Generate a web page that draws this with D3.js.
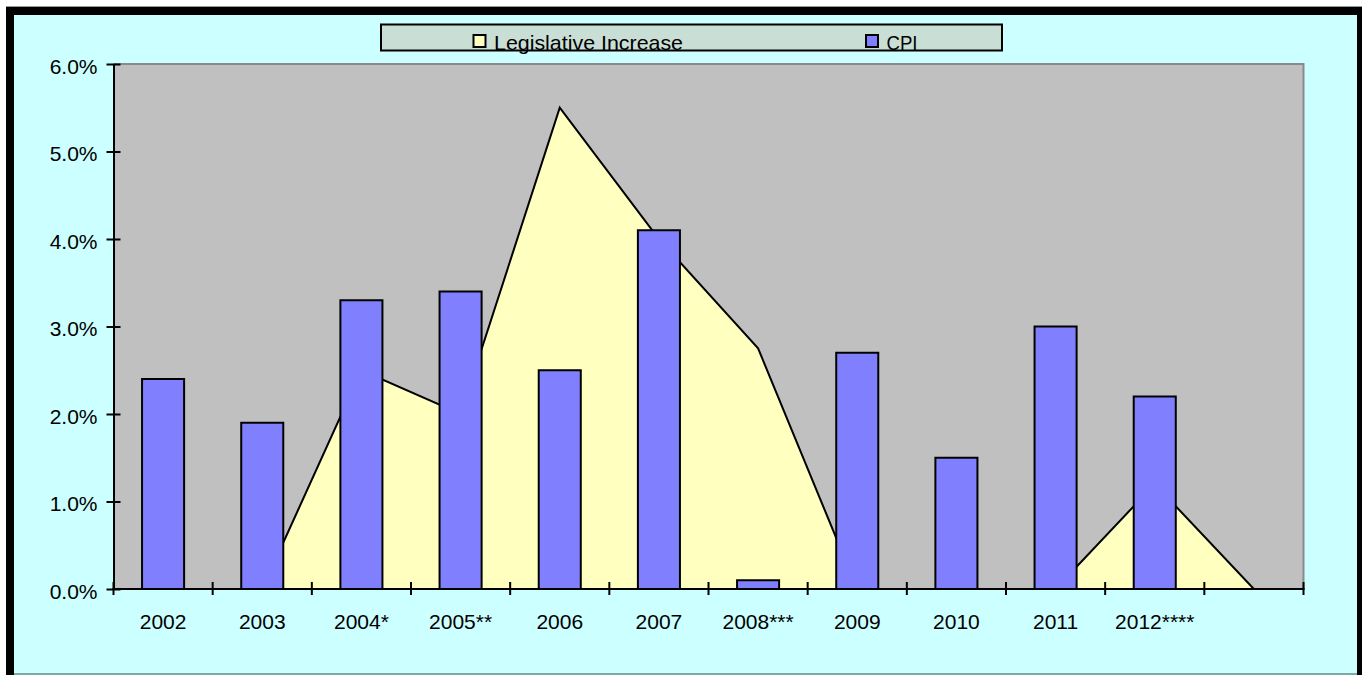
<!DOCTYPE html>
<html>
<head>
<meta charset="utf-8">
<script src="https://cdn.jsdelivr.net/npm/d3@7/dist/d3.min.js"></script>
<style>
  html, body { margin: 0; padding: 0; background: #ffffff; }
  svg { display: block; }
  text { font-family: "Liberation Sans", Arial, sans-serif; fill: #000; }
</style>
</head>
<body>
<svg id="chart" width="1362" height="675"></svg>
<script>
// ---- Data ----
const categories = ["2002", "2003", "2004*", "2005**", "2006", "2007", "2008***", "2009", "2010", "2011", "2012****", ""];
const cpiValues = [2.4, 1.9, 3.3, 3.4, 2.5, 4.1, 0.1, 2.7, 1.5, 3.0, 2.2, null];
const legislativeValues = [0, 0, 2.5, 2.0, 5.5, 4.0, 2.75, 0, 0, 0, 1.2, 0];
const yTickValues = [0, 1, 2, 3, 4, 5, 6];
const seriesNames = ["Legislative Increase", "CPI"];

// ---- Layout ----
const W = 1362, H = 675;
const plot = { left: 113.5, right: 1303.5, top: 64, bottom: 589 };
const colors = { bg: "#CCFFFF", plot: "#C0C0C0", area: "#FFFFC0", bar: "#8080FF", legend: "#C9DFD6" };

const svg = d3.select("#chart");

// outer frame
svg.append("rect").attr("x", 6).attr("y", 6).attr("width", W - 6).attr("height", H - 6).attr("fill", "#999");
svg.append("rect").attr("x", 6).attr("y", 7).attr("width", W - 6).attr("height", H - 7).attr("fill", "#000");
svg.append("rect").attr("x", 14).attr("y", 15).attr("width", 1357 - 14).attr("height", 673 - 15).attr("fill", colors.bg);
svg.append("rect").attr("x", 14).attr("y", 673).attr("width", 1357 - 14).attr("height", 2).attr("fill", "#7FA8A8");

// scales
const x = d3.scaleBand().domain(categories).range([plot.left, plot.right]).paddingInner(0).paddingOuter(0);
const y = d3.scaleLinear().domain([0, 6]).range([plot.bottom, plot.top]);
const barW = x.bandwidth() * 0.424;
const cx = c => x(c) + x.bandwidth() / 2;

// plot area
svg.append("rect").attr("x", plot.left).attr("y", plot.top)
  .attr("width", plot.right - plot.left).attr("height", plot.bottom - plot.top)
  .attr("fill", colors.plot);
svg.append("path")
  .attr("d", `M${plot.left},${plot.top}H${plot.right}V${plot.bottom}`)
  .attr("fill", "none").attr("stroke", "#8a8a8a").attr("stroke-width", 2);

// area series
const areaData = categories.map((c, i) => ({ c, v: legislativeValues[i] }));
const area = d3.area().x(d => cx(d.c)).y0(y(0)).y1(d => y(d.v));
svg.append("path").datum(areaData)
  .attr("d", area)
  .attr("fill", colors.area)
  .attr("stroke", "#000").attr("stroke-width", 2).attr("stroke-linejoin", "miter");

// bars
const barData = categories.map((c, i) => ({ c, v: cpiValues[i] })).filter(d => d.v != null);
svg.append("g").selectAll("rect").data(barData).join("rect")
  .attr("x", d => cx(d.c) - barW / 2)
  .attr("y", d => y(d.v))
  .attr("width", barW)
  .attr("height", d => y(0) - y(d.v))
  .attr("fill", colors.bar)
  .attr("stroke", "#000").attr("stroke-width", 2);

// y axis
const yAxis = d3.axisLeft(y).tickValues(yTickValues).tickSize(0).tickFormat(d => d3.format(".1f")(d) + "%");
const gy = svg.append("g").attr("transform", `translate(${plot.left},0)`).call(yAxis);
gy.attr("font-family", null).attr("font-size", null);
gy.select(".domain").attr("stroke", "#000").attr("stroke-width", 2);
gy.selectAll(".tick line").remove();
gy.selectAll(".tick").append("line").attr("x1", -7).attr("x2", 7).attr("stroke", "#000").attr("stroke-width", 2);
gy.selectAll(".tick text")
  .attr("x", -16).attr("dy", "0.45em")
  .style("font-size", "21px").attr("fill", "#000");

// x axis (ticks at category boundaries)
const boundaries = categories.map(c => x(c)).concat([plot.right]);
const gx = svg.append("g");
gx.append("line").attr("x1", plot.left - 1).attr("x2", plot.right + 1)
  .attr("y1", plot.bottom).attr("y2", plot.bottom).attr("stroke", "#000").attr("stroke-width", 2.2);
gx.selectAll("line.tk").data(boundaries).join("line").attr("class", "tk")
  .attr("x1", d => d).attr("x2", d => d)
  .attr("y1", plot.bottom - 7).attr("y2", plot.bottom + 6)
  .attr("stroke", "#000").attr("stroke-width", 2);
gx.selectAll("text").data(categories).join("text")
  .attr("x", d => cx(d)).attr("y", 629)
  .attr("text-anchor", "middle")
  .style("font-size", "21px")
  .text(d => d);

// legend
const lg = svg.append("g");
lg.append("rect").attr("x", 381).attr("y", 24.5).attr("width", 621).attr("height", 26)
  .attr("fill", colors.legend).attr("stroke", "#000").attr("stroke-width", 2);
const legendItems = [
  { name: seriesNames[0], color: colors.area, sx: 473.5, tx: 494, len: 189 },
  { name: seriesNames[1], color: colors.bar, sx: 866, tx: 886.5, len: 31 }
];
legendItems.forEach(it => {
  lg.append("rect").attr("x", it.sx).attr("y", 35).attr("width", 12).attr("height", 12)
    .attr("fill", it.color).attr("stroke", "#000").attr("stroke-width", 2);
  lg.append("text").attr("x", it.tx).attr("y", 49.5)
    .style("font-size", "21px")
    .attr("textLength", it.len).attr("lengthAdjust", "spacingAndGlyphs")
    .text(it.name);
});
</script>
</body>
</html>
